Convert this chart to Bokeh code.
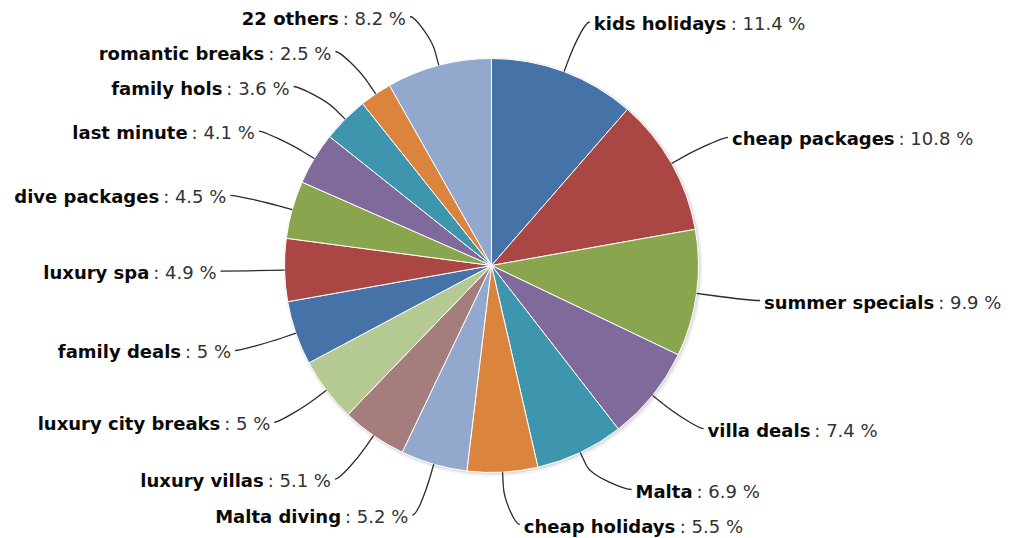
import math
from bokeh.plotting import figure
from bokeh.models import Range1d, ColumnDataSource
from bokeh.core.properties import value
from bokeh.embed import file_html
from bokeh.resources import INLINE

# ---- data ----
categories = ["kids holidays", "cheap packages", "summer specials", "villa deals",
              "Malta", "cheap holidays", "Malta diving", "luxury villas",
              "luxury city breaks", "family deals", "luxury spa", "dive packages",
              "last minute", "family hols", "romantic breaks", "22 others"]
shares = [11.4, 10.8, 9.9, 7.4, 6.9, 5.5, 5.2, 5.1, 5.0, 5.0, 4.9, 4.5, 4.1, 3.6, 2.5, 8.2]
colors = ["#4572A7", "#AA4643", "#89A54E", "#80699B", "#3D96AE", "#DB843D",
          "#92A8CD", "#A47D7C", "#B5CA92", "#4572A7", "#AA4643", "#89A54E",
          "#80699B", "#3D96AE", "#DB843D", "#92A8CD"]

# ---- layout ----
W, H = 1014, 538
CX, CY = 491, 265          # pie centre, canvas pixels (y down)
R = 207                    # pie radius
LRX, LRY = 266, 260        # label ellipse radii
BREAK = 14                 # connector break beyond pie edge
FS = 18                    # font size px
GAP = 35
YMIN, YMAX = 16, 524

# DejaVu Sans advance widths (units / 2048)
BOLD_W = {' ': 713, 'a': 1382, 'b': 1466, 'c': 1214, 'd': 1466, 'e': 1389, 'f': 891,
          'g': 1466, 'h': 1458, 'i': 702, 'j': 702, 'k': 1362, 'l': 702, 'm': 2134,
          'n': 1458, 'o': 1407, 'p': 1466, 'q': 1466, 'r': 1010, 's': 1219, 't': 979,
          'u': 1458, 'v': 1335, 'w': 1843, 'x': 1326, 'y': 1335, 'z': 1165, 'M': 2035,
          '2': 1425}
REG_W = {' ': 651, ':': 690, '.': 651, '%': 1946}
for d in "0123456789":
    REG_W[d] = 1303


def text_width(s, table, size):
    return sum(table.get(c, 1300) for c in s) / 2048.0 * size


total = sum(shares)
starts, ends, mids = [], [], []
acc = 0.0
for v in shares:
    f0 = acc / total
    acc += v
    f1 = acc / total
    starts.append(math.pi / 2 - 2 * math.pi * f1)
    ends.append(math.pi / 2 - 2 * math.pi * f0)
    mids.append((f0 + f1) / 2 * 2 * math.pi)   # clockwise from top

p = figure(width=W, height=H, x_range=Range1d(0, W), y_range=Range1d(0, H),
           output_backend="svg", toolbar_location=None, min_border=0,
           x_axis_location=None, y_axis_location=None)
p.grid.visible = False
p.outline_line_color = None
p.background_fill_color = "white"
p.border_fill_color = "white"

# shadow
p.circle(x=[CX + 1.5], y=[H - CY - 1.5], radius=R + 2.5, radius_units="screen",
         fill_color="black", fill_alpha=0.05, line_color=None)
p.circle(x=[CX + 1], y=[H - CY - 1], radius=R + 1, radius_units="screen",
         fill_color="black", fill_alpha=0.08, line_color=None)

src = ColumnDataSource(dict(start=starts, end=ends, color=colors, name=categories))
p.wedge(x=CX, y=H - CY, radius=R, radius_units="screen", start_angle="start",
        end_angle="end", fill_color="color", line_color="white", line_width=1,
        source=src)

# label placement
init = [CY - LRY * math.cos(a) for a in mids]

label_y = [0.0] * len(shares)
for side in (0, 1):
    idx = [i for i, a in enumerate(mids) if (a < math.pi) == (side == 0)]
    idx.sort(key=lambda i: init[i])
    ys = [init[i] for i in idx]
    ys[0] = max(ys[0], YMIN)
    for k in range(1, len(ys)):
        ys[k] = max(ys[k], ys[k - 1] + GAP)
    ys[-1] = min(ys[-1], YMAX)
    for k in range(len(ys) - 2, -1, -1):
        ys[k] = min(ys[k], ys[k + 1] - GAP)
    for i, y in zip(idx, ys):
        label_y[i] = y

bx0, by0, bx1, by1, bcx0, bcy0, bcx1, bcy1 = ([] for _ in range(8))
sx0, sy0, sx1, sy1 = [], [], [], []
nx, ny, nt, na = [], [], [], []
vx, vy, vt, va = [], [], [], []
for i, a in enumerate(mids):
    right = a < math.pi
    sgn = 1 if right else -1
    y = label_y[i]
    t = min(abs(y - CY) / LRY, 1.0)
    dx = LRX * math.sqrt(1 - t * t)
    x = CX + sgn * dx
    ex, ey = CX + R * math.sin(a), CY - R * math.cos(a)
    bx, by = CX + (R + BREAK) * math.sin(a), CY - (R + BREAK) * math.cos(a)
    bx0.append(x + sgn * 5); by0.append(H - y)
    bcx0.append(x); bcy0.append(H - y)
    bcx1.append(2 * bx - ex); bcy1.append(H - (2 * by - ey))
    bx1.append(bx); by1.append(H - by)
    sx0.append(bx); sy0.append(H - by); sx1.append(ex); sy1.append(H - ey)

    name = categories[i]
    suffix = ": %g %%" % shares[i]
    wn = text_width(name, BOLD_W, FS)
    ws = text_width(suffix, REG_W, FS)
    ty = H - (y + 1.5)
    if right:
        nx.append(x + 9); na.append("left")
        vx.append(x + 9 + wn + 4); va.append("left")
    else:
        vx.append(x - 9); va.append("right")
        nx.append(x - 9 - ws - 4); na.append("right")
    ny.append(ty); nt.append(name)
    vy.append(ty); vt.append(suffix)

p.bezier(x0=bx0, y0=by0, x1=bx1, y1=by1, cx0=bcx0, cy0=bcy0, cx1=bcx1, cy1=bcy1,
         line_color="#2a2a2a", line_width=1.3)
p.segment(x0=sx0, y0=sy0, x1=sx1, y1=sy1, line_color="#2a2a2a", line_width=1.3)

p.text(x=nx, y=ny, text=nt, text_align=na, text_baseline="middle",
       text_font=value("DejaVu Sans"), text_font_style="bold",
       text_font_size="%dpx" % FS, text_color="#0a0a0a")
p.text(x=vx, y=vy, text=vt, text_align=va, text_baseline="middle",
       text_font=value("DejaVu Sans"), text_font_size="%dpx" % FS,
       text_color="#333333")

open("out.html", "w").write(file_html(p, INLINE))
